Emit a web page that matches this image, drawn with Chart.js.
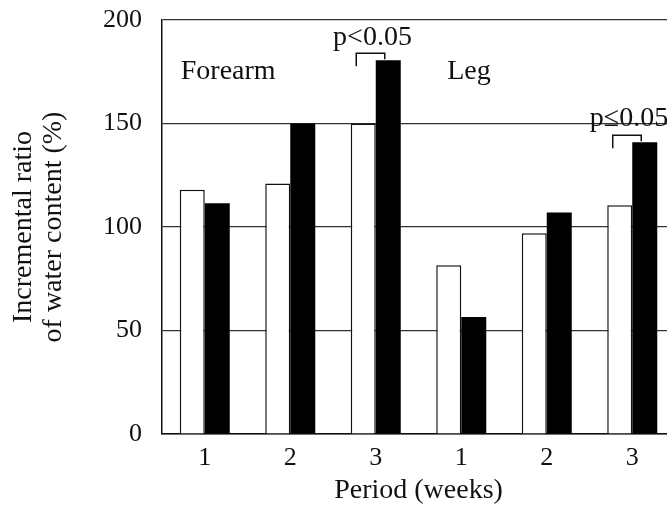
<!DOCTYPE html>
<html>
<head>
<meta charset="utf-8" />
<title>Incremental ratio of water content</title>
<script src="https://cdn.jsdelivr.net/npm/chart.js@4"></script>
<style>
    html, body { margin: 0; padding: 0; background: #fff; overflow: hidden; }
    #wrap { width: 680px; height: 509px; position: relative; }
</style>
</head>
<body>
<div id="wrap"><canvas id="waterChart"></canvas></div>
<script>
    // Period (weeks) - forearm 1..3 then leg 1..3
    const periods = ['1', '2', '3', '1', '2', '3'];
    const whiteBars = [118, 121, 150, 81.5, 97, 110.5];   // open bars
    const blackBars = [111.5, 150, 180.5, 56.5, 107, 141]; // filled bars
    const yTicks = [0, 50, 100, 150, 200];

    // region labels and significance marks
    const regionLabels = [
        { text: 'Forearm', index: 0, value: 175 },
        { text: 'Leg', index: 3, value: 175 }
    ];
    const sigMarks = [
        { text: 'p<0.05', index: 2 },
        { text: 'p\u22640.05', index: 5 }
    ];

    const serif = '"Liberation Serif", "DejaVu Serif", serif';
    const ink = '#111';

    // draws Forearm / Leg labels and the p-value brackets
    const notesPlugin = {
        id: 'notes',
        afterDatasetsDraw(chart) {
            const ctx = chart.ctx;
            const x = chart.scales.x, y = chart.scales.y;
            const open = chart.getDatasetMeta(0).data;
            const filled = chart.getDatasetMeta(1).data;
            ctx.save();
            ctx.fillStyle = ink;
            ctx.strokeStyle = ink;
            ctx.font = '28px ' + serif;
            ctx.textBaseline = 'middle';
            ctx.textAlign = 'left';
            regionLabels.forEach(l => {
                const px = x.getPixelForValue(l.index) - (l.index === 0 ? 24 : 14);
                ctx.fillText(l.text, px, y.getPixelForValue(l.value));
            });

            ctx.lineWidth = 1.5;
            ctx.textAlign = 'center';
            ctx.textBaseline = 'bottom';
            sigMarks.forEach(s => {
                const left = open[s.index].x - 7;
                const right = filled[s.index].x - 3.5;
                const top = filled[s.index].y - 7;
                ctx.beginPath();
                ctx.moveTo(left, top + 13);
                ctx.lineTo(left, top);
                ctx.lineTo(right, top);
                ctx.lineTo(right, filled[s.index].y - 1);
                ctx.stroke();
                ctx.fillText(s.text, (left + right) / 2 + 2, top - 2);
            });
            ctx.restore();
        }
    };

    new Chart(document.getElementById('waterChart').getContext('2d'), {
        type: 'bar',
        data: {
            labels: periods,
            datasets: [{
                label: 'open',
                data: whiteBars,
                backgroundColor: '#ffffff',
                borderColor: ink,
                borderWidth: 1.5
            }, {
                label: 'filled',
                data: blackBars,
                backgroundColor: '#000000',
                borderColor: '#000000',
                borderWidth: 0
            }]
        },
        options: {
            responsive: true,
            maintainAspectRatio: false,
            animation: false,
            layout: { padding: { top: 20, right: 5, left: 0, bottom: 0 } },
            datasets: { bar: { categoryPercentage: 0.585, barPercentage: 1 } },
            plugins: { legend: { display: false }, tooltip: { enabled: false } },
            scales: {
                x: {
                    grid: { display: false, drawTicks: false },
                    border: { color: ink, width: 1.5 },
                    ticks: { color: ink, font: { family: serif, size: 26 }, padding: 9 },
                    title: {
                        display: true, text: 'Period (weeks)', color: ink,
                        font: { family: serif, size: 28 }, padding: { top: 0, bottom: 2 }
                    },
                    afterFit(scale) { scale.height = 75; }
                },
                y: {
                    min: 0, max: 200,
                    afterBuildTicks(scale) { scale.ticks = yTicks.map(v => ({ value: v })); },
                    grid: { color: '#333', lineWidth: 1.2, drawTicks: false },
                    border: { color: ink, width: 1.5 },
                    ticks: { color: ink, font: { family: serif, size: 26 }, padding: 20 },
                    title: {
                        display: true, text: ['Incremental ratio', 'of water content (%)'], color: ink,
                        font: { family: serif, size: 28, lineHeight: 1.07 }, padding: { top: 9, bottom: 0 }
                    },
                    afterFit(scale) {
                        scale.width = 162;
                        // tick padding would otherwise push the plot top down
                        scale.paddingTop = 0;
                        scale.paddingBottom = 0;
                    }
                }
            }
        },
        plugins: [notesPlugin]
    });
</script>
</body>
</html>
